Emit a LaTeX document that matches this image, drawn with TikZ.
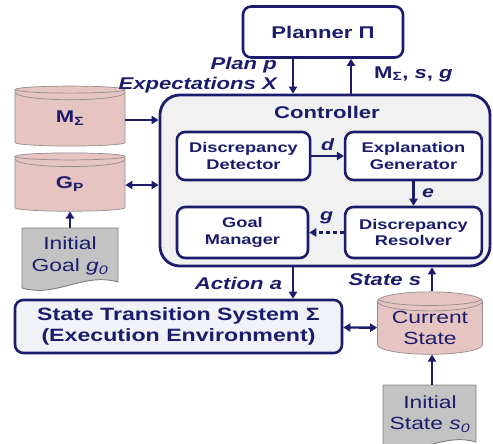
\documentclass[tikz,border=0pt]{standalone}
\usepackage{fontspec}
\setmainfont{Liberation Sans}[FakeStretch=1.3]
\usetikzlibrary{arrows.meta, shapes.geometric, positioning, calc}
\definecolor{navy}{RGB}{28,28,108}
\definecolor{ctrlgray}{RGB}{241,241,241}
\definecolor{stsfill}{RGB}{240,242,248}
\definecolor{cylpink}{RGB}{230,196,194}
\definecolor{cylline}{RGB}{150,140,140}
\definecolor{docgray}{RGB}{195,195,195}
\definecolor{docline}{RGB}{128,128,128}

% inner rim of a cylinder's top, #2 = half width in px
\newcommand{\cylrim}[2]{%
    \draw[draw=cylline, line width=0.6pt] ($(#1.north)+(-#2,7)$) arc[start angle=180, end angle=0, x radius=#2, y radius=7];}

\begin{document}
\begin{tikzpicture}[x=0.03cm, y=-0.03cm, font=\bfseries, text=navy,
    box/.style={draw=navy, line width=2.2pt, fill=white, rounded corners=7pt, align=center, inner sep=0pt},
    cyl/.style={shape=cylinder, shape border rotate=90, aspect=0.25, draw=cylline, fill=cylpink, line width=0.6pt, align=center, inner sep=0pt},
    docnode/.style={align=center, inner sep=0pt, font=\mdseries\fontsize{15}{18.5}\selectfont},
    docshape/.style={draw=docline, fill=docgray, line width=0.8pt},
    arr/.style={draw=navy, line width=2pt, -{Triangle[length=6pt, width=7pt]}},
    dbl/.style={draw=navy, line width=2pt, {Triangle[length=6pt, width=7pt]}-{Triangle[length=6pt, width=7pt]}},
    lbl/.style={font=\bfseries\itshape\fontsize{14.5}{16.5}\selectfont}]

    \useasboundingbox (0,0) rectangle (493,444);

    % Planner and controller
    \node[box, minimum width=4.8cm, minimum height=1.53cm, font=\bfseries\fontsize{14.5}{16}\selectfont] (planner) at (323,32) {Planner Π};
    \node[draw=navy, line width=2.4pt, fill=ctrlgray, rounded corners=17pt, minimum width=9.9cm, minimum height=5.13cm] (ctrl) at (325,180.5) {};
    \node[font=\bfseries\fontsize{14.5}{16}\selectfont] (ctrltitle) at (327,112) {Controller};

    % Inner components
    \begin{scope}[every node/.append style={font=\bfseries\fontsize{12}{14}\selectfont}]
    \node[box, minimum width=4.0cm, minimum height=1.44cm] (dd) at (243.5,156) {Discrepancy\\Detector};
    \node[box, minimum width=4.1cm, minimum height=1.44cm] (eg) at (413.5,156) {Explanation\\Generator};
    \node[box, minimum width=3.93cm, minimum height=1.53cm] (gm) at (242.5,232.5) {Goal\\Manager};
    \node[box, minimum width=4.1cm, minimum height=1.53cm] (dr) at (413.5,232.5) {Discrepancy\\Resolver};
    \end{scope}

    % Environment
    \node[box, fill=stsfill, minimum width=9.81cm, minimum height=1.59cm, font=\bfseries\fontsize{15.2}{17.5}\selectfont] (sts) at (178.5,326.5) {State Transition System Σ\\(Execution Environment)};

    % Stores
    \node[cyl, minimum width=3.3cm, minimum height=1.8cm, font=\bfseries\fontsize{14.5}{16}\selectfont] (ms) at (70,118) {M\textsubscript{Σ}};
    \node[cyl, minimum width=3.3cm, minimum height=1.75cm, font=\bfseries\fontsize{14.5}{16}\selectfont] (gp) at (70,184) {G\textsubscript{P}};
    \node[cyl, minimum width=3.15cm, minimum height=1.8cm, font=\mdseries\fontsize{15}{18}\selectfont] (cs) at (430,328) {Current\\State};
    \cylrim{ms}{54.5}
    \cylrim{gp}{54.5}
    \cylrim{cs}{52}

    % Documents
    \coordinate (igtl) at (22,228);
    \coordinate (igbr) at (118,286);
    \draw[docshape] (igtl) -- (igtl -| igbr) -- ($(igbr)+(0,-4)$) .. controls +(-35,-10) and +(35,10) .. ($(igtl |- igbr)+(0,2)$) -- cycle;
    \node[docnode] (ig) at (70,256) {Initial\\Goal \textit{g}\textsubscript{\textit{0}}};

    \coordinate (istl) at (383,385);
    \coordinate (isbr) at (476,446);
    \draw[docshape] (istl) -- (istl -| isbr) -- ($(isbr)+(0,-4)$) .. controls +(-35,-10) and +(35,10) .. ($(istl |- isbr)+(0,2)$) -- cycle;
    \node[docnode] (is) at (430,414) {Initial\\State \textit{s}\textsubscript{\textit{0}}};

    % Connectors
    \coordinate (xp) at (293,0);
    \coordinate (xm) at (351,0);
    \coordinate (xs) at (432,0);
    \draw[arr] (planner.south -| xp) -- (ctrl.north -| xp);
    \draw[arr] (ctrl.north -| xm) -- (planner.south -| xm);
    \node[lbl, align=right, anchor=east] (planlbl) at (281,75) {Plan \textit{p}\\Expectations \textit{X}};
    \node[lbl, anchor=west, font=\bfseries\fontsize{14.5}{16}\selectfont] (modlbl) at (370,74) {M\textsubscript{Σ}, \textit{s}, \textit{g}};

    \draw[arr] (ms.east |- 0,120) -- (ctrl.west |- 0,120);
    \draw[dbl] (gp.east |- 0,185) -- (ctrl.west |- 0,185);
    \draw[arr] (igtl -| ig) -- (gp.south);

    \draw[arr] (dd) -- node[lbl, above, font=\bfseries\itshape\fontsize{14}{16}\selectfont] {d} (eg);
    \draw[arr] (eg) -- node[lbl, right=3pt, font=\bfseries\itshape\fontsize{14}{16}\selectfont] {e} (dr);
    \draw[arr, dash pattern=on 3pt off 3pt] (dr) -- node[lbl, above=3pt, font=\bfseries\itshape\fontsize{14}{16}\selectfont] {g} (gm);

    \draw[arr] (ctrl.south -| xp) -- node[lbl, left=5pt] {Action \textit{a}} (sts.north -| xp);
    \draw[arr] (cs.north -| xs) -- node[lbl, left=5pt] {State \textit{s}} (ctrl.south -| xs);
    \draw[dbl] (sts) -- (cs);
    \draw[arr] (istl -| xs) -- (cs.south -| xs);

\end{tikzpicture}
\end{document}
